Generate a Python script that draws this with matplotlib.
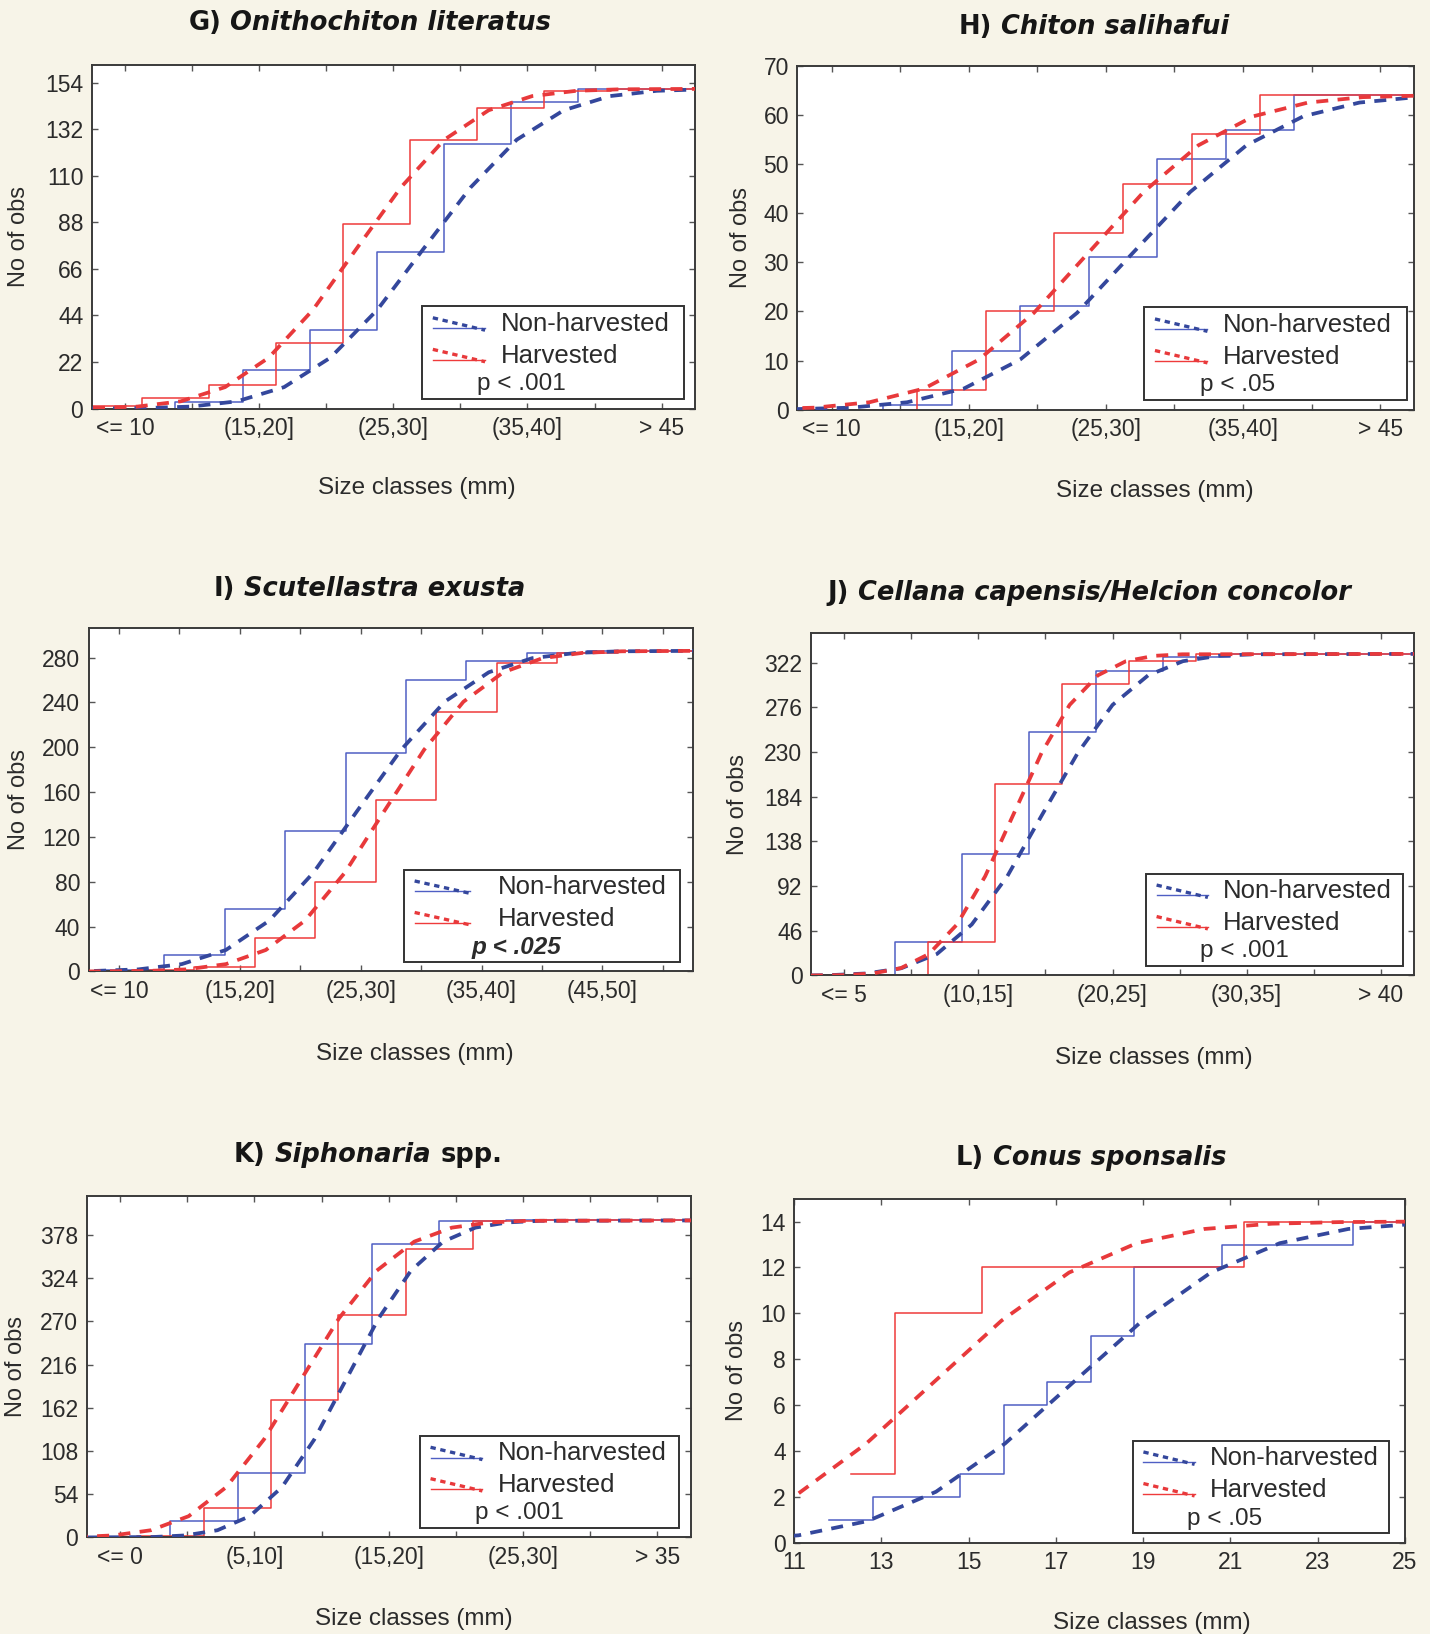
import numpy as np
import matplotlib
matplotlib.use('Agg')
import matplotlib.pyplot as plt
from matplotlib.patches import Rectangle

plt.rcParams['font.family'] = ['Liberation Sans', 'DejaVu Sans']

# size classes (categorical x axes)
classes_g = ["<= 10", "(10,15]", "(15,20]", "(20,25]", "(25,30]", "(30,35]", "(35,40]", "(40,45]", "> 45"]
classes_i = ["<= 10", "(10,15]", "(15,20]", "(20,25]", "(25,30]", "(30,35]", "(35,40]", "(40,45]", "(45,50]", "> 50"]
classes_j = ["<= 5", "(5,10]", "(10,15]", "(15,20]", "(20,25]", "(25,30]", "(30,35]", "(35,40]", "> 40"]
classes_k = ["<= 0", "(0,5]", "(5,10]", "(10,15]", "(15,20]", "(20,25]", "(25,30]", "(30,35]", "> 35"]

# G) Onithochiton literatus - cumulative counts per class
g_non = [0, 3, 18, 37, 74, 125, 145, 151, 151]
g_harv = [1, 5, 11, 31, 87, 127, 142, 150, 151]
g_non_fit_x = [-0.5, 0.28, 0.98, 1.67, 2.37, 3.06, 3.76, 4.45, 5.15, 5.84, 6.54, 7.23, 7.93, 8.62]
g_non_fit_y = [0.0, 0.2, 0.9, 3.4, 10.1, 24.0, 46.6, 75.5, 104.4, 127.0, 140.9, 147.6, 150.1, 150.8]
g_harv_fit_x = [-0.48, 0.18, 0.83, 1.49, 2.14, 2.80, 3.45, 4.11, 4.76, 5.42, 6.07, 6.73, 7.38, 8.5]
g_harv_fit_y = [0.2, 0.9, 3.4, 10.1, 24.0, 46.6, 75.5, 104.4, 127.0, 140.9, 147.6, 150.1, 150.8, 151.0]

# H) Chiton salihafui
h_non = [0, 1, 12, 21, 31, 51, 57, 64, 64]
h_harv = [0, 0, 4, 20, 36, 46, 56, 64, 64]
h_non_fit_x = [-0.55, 0.28, 1.10, 1.93, 2.75, 3.58, 4.40, 5.23, 6.05, 6.88, 7.70, 8.53]
h_non_fit_y = [0.1, 0.4, 1.5, 4.3, 10.2, 19.7, 32.0, 44.3, 53.8, 59.7, 62.5, 63.6]
h_harv_fit_x = [-1.05, -0.25, 0.55, 1.35, 2.15, 2.95, 3.75, 4.55, 5.35, 6.15, 6.95, 7.75, 8.55]
h_harv_fit_y = [0.1, 0.4, 1.5, 4.3, 10.2, 19.7, 32.0, 44.3, 53.8, 59.7, 62.5, 63.6, 63.9]

# I) Scutellastra exusta
i_non = [1, 15, 56, 125, 195, 260, 277, 284, 286, 286]
i_harv = [0, 1, 4, 30, 80, 153, 231, 275, 284, 286]
i_non_fit_x = [-0.41, 0.32, 1.04, 1.77, 2.49, 3.22, 3.94, 4.67, 5.39, 6.12, 6.84, 7.57, 8.29, 9.5]
i_non_fit_y = [0.4, 1.8, 6.5, 19.1, 45.4, 88.2, 143.0, 197.8, 240.6, 266.9, 279.5, 284.2, 285.6, 286.0]
i_harv_fit_x = [-0.5, 0.46, 1.12, 1.77, 2.43, 3.08, 3.74, 4.39, 5.05, 5.70, 6.36, 7.01, 7.67, 8.32, 9.5]
i_harv_fit_y = [0.0, 0.4, 1.8, 6.5, 19.1, 45.4, 88.2, 143.0, 197.8, 240.6, 266.9, 279.5, 284.2, 285.6, 286.0]

# J) Cellana capensis/Helcion concolor
j_non = [0, 34, 125, 251, 313, 328, 331, 331, 331]
j_harv = [0, 0, 34, 197, 300, 324, 331, 331, 331]
j_non_fit_x = [-0.5, -0.20, 0.33, 0.85, 1.38, 1.90, 2.43, 2.95, 3.48, 4.00, 4.53, 5.05, 5.58, 6.10, 8.5]
j_non_fit_y = [0.1, 0.4, 2.1, 7.5, 22.1, 52.5, 102.1, 165.5, 228.9, 278.5, 308.9, 323.5, 329.0, 330.6, 331.0]
j_harv_fit_x = [-0.5, 0.0, 0.42, 0.84, 1.26, 1.68, 2.10, 2.52, 2.94, 3.36, 3.78, 4.20, 4.62, 5.04, 8.5]
j_harv_fit_y = [0.0, 0.4, 2.1, 7.5, 22.1, 52.5, 102.1, 165.5, 228.9, 278.5, 308.9, 323.5, 329.0, 330.6, 331.0]

# K) Siphonaria spp.
k_non = [0, 21, 81, 242, 367, 395, 396, 396, 396]
k_harv = [0, 2, 37, 172, 278, 360, 395, 396, 396]
k_non_fit_x = [-0.5, 0.49, 0.97, 1.45, 1.93, 2.41, 2.89, 3.37, 3.85, 4.33, 4.81, 5.29, 5.77, 6.25, 8.5]
k_non_fit_y = [0.0, 0.5, 2.5, 9.0, 26.5, 62.8, 122.2, 198.0, 273.8, 333.2, 369.5, 387.0, 393.5, 395.5, 396.0]
k_harv_fit_x = [-0.66, -0.10, 0.46, 1.02, 1.58, 2.14, 2.70, 3.26, 3.82, 4.38, 4.94, 5.50, 6.06, 8.5]
k_harv_fit_y = [0.5, 2.5, 9.0, 26.5, 62.8, 122.2, 198.0, 273.8, 333.2, 369.5, 387.0, 393.5, 395.5, 396.0]

# L) Conus sponsalis (numeric sizes, mm)
l_non_sizes = [12, 13, 14, 15, 16, 17, 18, 19, 20, 21, 22, 23, 24, 25]
l_non = [1, 2, 2, 3, 6, 7, 9, 12, 12, 13, 13, 13, 14, 14]
l_harv_sizes = [13, 14, 15, 16, 17, 18, 19, 20, 21, 22, 23, 24, 25]
l_harv = [3, 10, 10, 12, 12, 12, 12, 12, 12, 14, 14, 14, 14]
l_non_fit_x = [7.95, 9.53, 11.10, 12.68, 14.25, 15.83, 17.40, 18.98, 20.55, 22.13, 23.70, 25.28]
l_non_fit_y = [0.02, 0.09, 0.32, 0.94, 2.22, 4.32, 7.0, 9.68, 11.78, 13.06, 13.68, 13.91]
l_harv_fit_x = [4.9, 6.45, 8.0, 9.55, 11.1, 12.65, 14.2, 15.75, 17.3, 18.85, 20.4, 21.95, 23.5, 25.05]
l_harv_fit_y = [0.02, 0.09, 0.32, 0.94, 2.15, 4.32, 7.0, 9.68, 11.78, 13.06, 13.68, 13.91, 13.98, 14.0]

BLUE_STEP = '#4f5fc4'
RED_STEP = '#ef3b3b'
BLUE_FIT = '#34479c'
RED_FIT = '#e8393b'
TXT = '#2b2b2b'
BG = '#f7f4e8'

panels = [
    dict(title=[("G)", "normal"), ("Onithochiton literatus", "italic")], tpos=(0.2587, 0.9859),
         rect=[0.0641, 0.750, 0.422, 0.2105], classes=classes_g, non=g_non, harv=g_harv,
         nfx=g_non_fit_x, nfy=g_non_fit_y, hfx=g_harv_fit_x, hfy=g_harv_fit_y,
         yticks=np.arange(0, 155, 22), ytop=162.5, p="p < .001", pbold=False,
         leg=(0.548, 0.981), xl=(0.539, -0.231), yl=-0.121),
    dict(title=[("H)", "normal"), ("Chiton salihafui", "italic")], tpos=(0.7650, 0.9835),
         rect=[0.5576, 0.7493, 0.4315, 0.2105], classes=classes_g, non=h_non, harv=h_harv,
         nfx=h_non_fit_x, nfy=h_non_fit_y, hfx=h_harv_fit_x, hfy=h_harv_fit_y,
         yticks=np.arange(0, 71, 10), ytop=70, p="p < .05", pbold=False,
         leg=(0.5625, 0.988), xl=(0.580, -0.237), yl=-0.092),
    dict(title=[("I)", "normal"), ("Scutellastra exusta", "italic")], tpos=(0.2580, 0.6395),
         rect=[0.062, 0.4055, 0.4227, 0.2099], classes=classes_i, non=i_non, harv=i_harv,
         nfx=i_non_fit_x, nfy=i_non_fit_y, hfx=i_harv_fit_x, hfy=i_harv_fit_y,
         yticks=np.arange(0, 281, 40), ytop=306, p="p < .025", pbold=True,
         leg=(0.521, 0.978), xl=(0.540, -0.241), yl=-0.116),
    dict(title=[("J)", "normal"), ("Cellana capensis/Helcion concolor", "italic")], tpos=(0.7615, 0.6371),
         rect=[0.567, 0.403, 0.422, 0.2099], classes=classes_j, non=j_non, harv=j_harv,
         nfx=j_non_fit_x, nfy=j_non_fit_y, hfx=j_harv_fit_x, hfy=j_harv_fit_y,
         yticks=np.arange(0, 323, 46), ytop=353, p="p < .001", pbold=False,
         leg=(0.556, 0.981), xl=(0.568, -0.240), yl=-0.121),
    dict(title=[("K)", "normal"), ("Siphonaria", "italic"), ("spp.", "normal")], tpos=(0.2573, 0.2931),
         rect=[0.0605, 0.0591, 0.4227, 0.2092], classes=classes_k, non=k_non, harv=k_harv,
         nfx=k_non_fit_x, nfy=k_non_fit_y, hfx=k_harv_fit_x, hfy=k_harv_fit_y,
         yticks=np.arange(0, 379, 54), ytop=427, p="p < .001", pbold=False,
         leg=(0.552, 0.981), xl=(0.542, -0.239), yl=-0.117),
    dict(title=[("L)", "normal"), ("Conus sponsalis", "italic")], tpos=(0.7629, 0.2913),
         rect=[0.5554, 0.0559, 0.4271, 0.2105], classes=None, non=l_non, harv=l_harv,
         nfx=l_non_fit_x, nfy=l_non_fit_y, hfx=l_harv_fit_x, hfy=l_harv_fit_y,
         yticks=np.arange(0, 15, 2), ytop=15, p="p < .05", pbold=False,
         leg=(0.555, 0.974), xl=(0.586, -0.234), yl=-0.093),
]

fig = plt.figure(figsize=(14.3, 16.34), dpi=100, facecolor=BG)
renderer = fig.canvas.get_renderer()


def draw_title(parts, pos):
    texts = []
    for s, style in parts:
        t = fig.text(0, pos[1], s, fontsize=18.5, fontweight='bold', fontstyle=style,
                     family='DejaVu Sans', color='#161616', va='center', ha='left')
        texts.append(t)
    widths = [t.get_window_extent(renderer).width for t in texts]
    gap = 9
    total = sum(widths) + gap * (len(texts) - 1)
    x = pos[0] * fig.bbox.width - total / 2
    for t, w in zip(texts, widths):
        t.set_x(x / fig.bbox.width)
        x += w + gap


def draw_legend(ax, x0, x1, ptext, pbold):
    y0, y1 = 0.027, 0.297
    w, h = x1 - x0, y1 - y0
    ax.add_patch(Rectangle((x0, y0), w, h, transform=ax.transAxes, facecolor='white',
                           edgecolor='#333333', lw=1.4, zorder=6))
    rows = [(y1 - 0.19 * h, "Non-harvested", BLUE_STEP, BLUE_FIT),
            (y1 - 0.53 * h, "Harvested", RED_STEP, RED_FIT)]
    tx = x0 + (0.34 if pbold else 0.30) * w
    for yy, lab, cs, cf in rows:
        ax.plot([x0 + 0.04 * w, x0 + 0.24 * w], [yy - 0.012, yy - 0.012], color=cs, lw=1.0,
                transform=ax.transAxes, zorder=7, clip_on=False)
        ax.plot([x0 + 0.04 * w, x0 + 0.24 * w], [yy + 0.018, yy - 0.018], color=cf, lw=2.4,
                dashes=(1.6, 1.4), transform=ax.transAxes, zorder=7, clip_on=False)
        ax.text(tx, yy, lab, transform=ax.transAxes, fontsize=18.5, color=TXT,
                va='center', ha='left', zorder=8)
    px = x0 + (0.245 if pbold else 0.21) * w
    ax.text(px, y1 - 0.84 * h, ptext, transform=ax.transAxes, fontsize=17.5, color=TXT,
            va='center', ha='left', zorder=8,
            fontweight='bold' if pbold else 'normal', fontstyle='italic' if pbold else 'normal')


for p in panels:
    ax = fig.add_axes(p['rect'])
    ax.set_facecolor('white')
    if p['classes'] is not None:
        n = len(p['classes'])
        cats = np.arange(n)
        right = n - 0.5
        ax.step(list(cats - 0.25) + [right], p['non'] + [p['non'][-1]], where='post',
                color=BLUE_STEP, lw=1.1, zorder=2)
        ax.step(list(cats - 0.75) + [right], p['harv'] + [p['harv'][-1]], where='post',
                color=RED_STEP, lw=1.1, zorder=2)
        ax.set_xlim(-0.5, right)
        ax.set_xticks(cats)
        ax.set_xticklabels([c if k % 2 == 0 else "" for k, c in enumerate(p['classes'])])
    else:
        right = 25
        ax.step([s - 0.2 for s in l_non_sizes] + [right], p['non'] + [p['non'][-1]], where='post',
                color=BLUE_STEP, lw=1.1, zorder=2)
        ax.step([s - 0.7 for s in l_harv_sizes] + [right], p['harv'] + [p['harv'][-1]], where='post',
                color=RED_STEP, lw=1.1, zorder=2)
        ax.set_xlim(11, 25)
        ax.set_xticks(np.arange(11, 26, 2))
    ax.plot(p['nfx'], p['nfy'], color=BLUE_FIT, lw=2.7, dashes=(3.2, 2.5), zorder=3)
    ax.plot(p['hfx'], p['hfy'], color=RED_FIT, lw=2.7, dashes=(3.2, 2.5), zorder=3)
    ax.set_ylim(0, p['ytop'])
    ax.set_yticks(p['yticks'])
    ax.tick_params(direction='in', length=4, width=1, top=True, right=True,
                   labelsize=16.5, labelcolor=TXT, color='#555555', pad=6)
    for sp in ax.spines.values():
        sp.set_color('#3a3a3a')
        sp.set_linewidth(1.4)
    ax.text(p['xl'][0], p['xl'][1], "Size classes (mm)", transform=ax.transAxes,
            fontsize=17.5, color=TXT, ha='center', va='center')
    ax.text(p['yl'], 0.5, "No of obs", transform=ax.transAxes, rotation=90,
            fontsize=17, color=TXT, ha='center', va='center')
    draw_legend(ax, p['leg'][0], p['leg'][1], p['p'], p['pbold'])
    draw_title(p['title'], p['tpos'])

fig.savefig('out.png', dpi=100, facecolor=BG)
